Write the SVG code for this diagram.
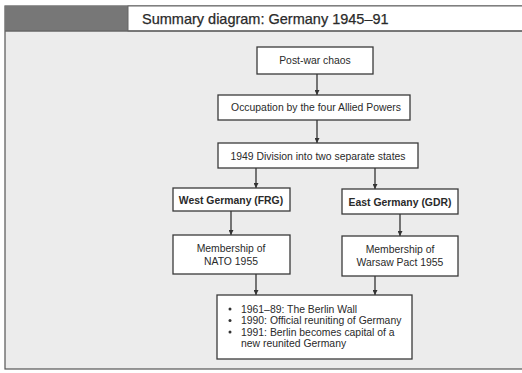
<svg xmlns="http://www.w3.org/2000/svg" width="522" height="373" viewBox="0 0 522 373">
<style>
.box{fill:#ffffff;stroke:#3a3a3a;stroke-width:1.3}
.t{font-family:"Liberation Sans",Arial,sans-serif;font-size:10.4px;fill:#2a2a2a;text-anchor:middle}
.b{font-weight:bold}
.l{text-anchor:start}
.c{stroke:#333;stroke-width:1.3;fill:none}
</style>
<defs>
<marker id="ah" viewBox="0 0 10 10" refX="10" refY="5" markerWidth="5" markerHeight="5" markerUnits="userSpaceOnUse" orient="auto">
<path d="M0,0 L10,5 L0,10 z" fill="#333"/>
</marker>
</defs>
<rect x="0" y="0" width="522" height="373" fill="#ffffff"/>
<rect x="5" y="6" width="520" height="363" fill="#ececec" stroke="#555" stroke-width="1.2"/>
<rect x="5" y="6" width="123" height="25" fill="#777777"/>
<rect x="128" y="6" width="397" height="25" fill="#ffffff" stroke="#666" stroke-width="1"/>
<line x1="5" y1="31" x2="522" y2="31" stroke="#666" stroke-width="1.5"/>
<text x="142" y="24" font-family="'Liberation Sans',Arial,sans-serif" font-size="14.5px" fill="#2a2a2a" stroke="#2a2a2a" stroke-width="0.25">Summary diagram: Germany 1945–91</text>
<g id="connectors">
<line class="c" x1="317" y1="74" x2="317" y2="95" marker-end="url(#ah)"/>
<line class="c" x1="317" y1="120" x2="317" y2="143" marker-end="url(#ah)"/>
<line class="c" x1="256" y1="168" x2="256" y2="188" marker-end="url(#ah)"/>
<line class="c" x1="375" y1="168" x2="375" y2="189" marker-end="url(#ah)"/>
<line class="c" x1="231" y1="211" x2="231" y2="235" marker-end="url(#ah)"/>
<line class="c" x1="400" y1="214" x2="400" y2="236" marker-end="url(#ah)"/>
<line class="c" x1="256" y1="274" x2="256" y2="295" marker-end="url(#ah)"/>
<line class="c" x1="375" y1="276" x2="375" y2="295" marker-end="url(#ah)"/>
</g>
<g id="postwar">
<rect class="box" x="257" y="47" width="116" height="27"/>
<text class="t" x="315" y="64">Post-war chaos</text>
</g>
<g id="occupation">
<rect class="box" x="218" y="95" width="192" height="25"/>
<text class="t" x="316" y="111">Occupation by the four Allied Powers</text>
</g>
<g id="division">
<rect class="box" x="218" y="143" width="200" height="25"/>
<text class="t" x="318" y="159.5">1949 Division into two separate states</text>
</g>
<g id="west">
<rect class="box" x="173" y="188" width="117" height="23"/>
<text class="t b" x="231" y="203.5">West Germany (FRG)</text>
</g>
<g id="east">
<rect class="box" x="342" y="189" width="116" height="25"/>
<text class="t b" x="400" y="205.5">East Germany (GDR)</text>
</g>
<g id="nato">
<rect class="box" x="173" y="235" width="117" height="39"/>
<text class="t" x="231" y="251.5">Membership of</text>
<text class="t" x="231" y="264.5">NATO 1955</text>
</g>
<g id="warsaw">
<rect class="box" x="342" y="236" width="116" height="40"/>
<text class="t" x="400" y="252.5">Membership of</text>
<text class="t" x="400" y="265.5">Warsaw Pact 1955</text>
</g>
<g id="outcome">
<rect class="box" x="217" y="295" width="195" height="64"/>
<circle cx="230" cy="309" r="1.5" fill="#333"/>
<circle cx="230" cy="320.5" r="1.5" fill="#333"/>
<circle cx="230" cy="332" r="1.5" fill="#333"/>
<text class="t l" x="241" y="312.5">1961–89: The Berlin Wall</text>
<text class="t l" x="241" y="324">1990: Official reuniting of Germany</text>
<text class="t l" x="241" y="335.5">1991: Berlin becomes capital of a</text>
<text class="t l" x="241" y="347">new reunited Germany</text>
</g>
</svg>
